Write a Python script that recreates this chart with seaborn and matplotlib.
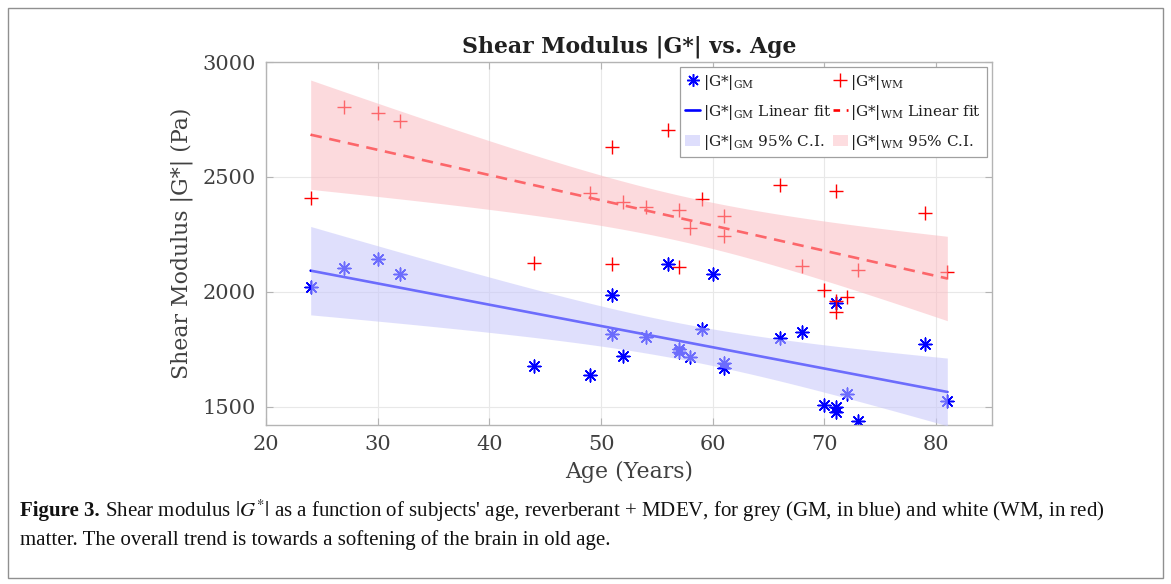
import numpy as np
import pandas as pd
import matplotlib
matplotlib.use("Agg")
import matplotlib.pyplot as plt
import seaborn as sns
from matplotlib.lines import Line2D
from matplotlib.patches import Patch, Rectangle

# ---------------- data ----------------
gm_age = [24, 27, 30, 32, 44, 49, 51, 51, 52, 54, 56, 57, 57, 58, 59, 60, 61, 61,
          66, 68, 70, 71, 71, 71, 72, 73, 79, 81]
gm_val = [2022, 2104, 2141, 2076, 1677, 1638, 1986, 1816, 1720, 1804, 2120, 1750, 1738,
          1717, 1836, 2076, 1691, 1670, 1800, 1823, 1507, 1950, 1500, 1478, 1555, 1438,
          1771, 1525]
wm_age = [24, 27, 30, 32, 44, 49, 51, 51, 52, 54, 56, 57, 57, 58, 59, 61, 61,
          66, 68, 70, 71, 71, 71, 72, 73, 79, 81]
wm_val = [2406, 2804, 2776, 2742, 2126, 2428, 2630, 2120, 2391, 2370, 2706, 2355, 2109,
          2276, 2402, 2329, 2243, 2464, 2112, 2007, 2438, 1960, 1913, 1978, 2094, 2341,
          2087]
x_ticks = [20, 30, 40, 50, 60, 70, 80]
y_ticks = [1500, 2000, 2500, 3000]
title_text = "Shear Modulus |G*| vs. Age"
x_label = "Age (Years)"
y_label = "Shear Modulus |G*| (Pa)"
legend_labels = [r"|G*|$_{\mathrm{GM}}$", r"|G*|$_{\mathrm{GM}}$ Linear fit",
                 r"|G*|$_{\mathrm{GM}}$ 95% C.I.", r"|G*|$_{\mathrm{WM}}$",
                 r"|G*|$_{\mathrm{WM}}$ Linear fit", r"|G*|$_{\mathrm{WM}}$ 95% C.I."]
caption_bold = "Figure 3."
caption_rest = (r" Shear modulus $|G^{*}|$ as a function of subjects' age, reverberant + MDEV, "
                r"for grey (GM, in blue) and white (WM, in red)")
caption_line2 = "matter. The overall trend is towards a softening of the brain in old age."

# ---------------- style ----------------
sns.set_style("ticks")
plt.rcParams["font.family"] = ["DejaVu Serif"]
plt.rcParams["mathtext.fontset"] = "dejavuserif"
text_col = "#404040"
spine_col = "#b4b4b4"

fig = plt.figure(figsize=(11.71, 5.84), dpi=100)
ax = fig.add_axes([266 / 1171, 1 - 425 / 584, (992 - 266) / 1171, (425 - 62) / 584])


def fit_ci(x, y):
    """Least-squares line with a simultaneous (Scheffe) 95% confidence band."""
    x = np.asarray(x, float)
    y = np.asarray(y, float)
    n = len(x)
    d = n - 2
    b, a = np.polyfit(x, y, 1)
    grid = np.linspace(x.min(), x.max(), 200)
    yhat = a + b * grid
    s = np.sqrt(np.sum((y - (a + b * x)) ** 2) / d)
    sxx = np.sum((x - x.mean()) ** 2)
    f95 = (d / 2.0) * (0.05 ** (-2.0 / d) - 1.0)   # F(0.95; 2, d)
    k = np.sqrt(2.0 * f95)
    half = k * s * np.sqrt(1 / n + (grid - x.mean()) ** 2 / sxx)
    return grid, yhat, yhat - half, yhat + half


gm_fill = "#c6c6fb"
wm_fill = "#fbbcc2"

df_gm = pd.DataFrame({"age": gm_age, "val": gm_val})
df_wm = pd.DataFrame({"age": wm_age, "val": wm_val})

sns.scatterplot(data=df_gm, x="age", y="val", marker=(8, 2, 0), s=85, color="#0000ff",
                linewidth=1.1, ax=ax, zorder=2, legend=False)
sns.scatterplot(data=df_wm, x="age", y="val", marker="+", s=110, color="#ff0000",
                linewidth=1.0, ax=ax, zorder=2, legend=False)

g_x, g_y, g_lo, g_hi = fit_ci(gm_age, gm_val)
w_x, w_y, w_lo, w_hi = fit_ci(wm_age, wm_val)

sns.lineplot(x=g_x, y=g_y, color="#0000ff", lw=1.9, ax=ax, zorder=2.5)
ax.plot(w_x, w_y, color="#ff0000", lw=1.9, dashes=(4.3, 2.9), zorder=2.5)
ax.fill_between(g_x, g_lo, g_hi, color=gm_fill, alpha=0.55, lw=0, zorder=3)
ax.fill_between(w_x, w_lo, w_hi, color=wm_fill, alpha=0.55, lw=0, zorder=3)

ax.set_xlim(20, 85)
ax.set_ylim(1420, 3000)
ax.set_xticks(x_ticks)
ax.set_yticks(y_ticks)
ax.grid(True, color="#e8e8e8", lw=0.8, zorder=0)
ax.set_axisbelow(True)
for sp in ax.spines.values():
    sp.set_visible(True)
    sp.set_color(spine_col)
    sp.set_linewidth(1.0)
ax.tick_params(direction="in", top=True, right=True, length=5, width=0.8,
               color=spine_col, labelcolor=text_col, labelsize=15, pad=7)
ax.set_xlabel(x_label, fontsize=15.8, color=text_col, labelpad=5)
ax.set_ylabel(y_label, fontsize=15.8, color=text_col, labelpad=7)
ax.set_title(title_text, fontsize=15.8, fontweight="bold", color="#202020", pad=7)

handles = [
    Line2D([], [], marker=(8, 2, 0), color="#0000ff", ls="none", ms=9, mew=1.1),
    Line2D([], [], color="#0000ff", lw=1.9),
    Patch(facecolor="#dedefc", edgecolor="none"),
    Line2D([], [], marker="+", color="#ff0000", ls="none", ms=10, mew=1.0),
    Line2D([], [], color="#ff0000", lw=1.9, dashes=(2.5, 2.5)),
    Patch(facecolor="#fddde0", edgecolor="none"),
]
leg = ax.legend(handles, legend_labels, ncol=2, loc="upper right", fontsize=11,
                frameon=True, fancybox=False, framealpha=1, edgecolor="#a0a0a0",
                handlelength=1.0, handletextpad=0.15, columnspacing=0.1,
                labelspacing=0.72, borderpad=0.35, borderaxespad=0.35)
leg.get_frame().set_linewidth(0.9)
leg.set_zorder(5)
for t in leg.get_texts():
    t.set_color("#202020")

# ---------------- caption and frame ----------------
fig.add_artist(Rectangle((8 / 1171, 1 - 578 / 584), (1163 - 8) / 1171, (578 - 8) / 584,
                         transform=fig.transFigure, fill=False, edgecolor="#909090", lw=1.0))
cap_font = ["Liberation Serif"]
t1 = fig.text(20 / 1171, 1 - 511 / 584, caption_bold, fontsize=15, fontweight="bold",
              family=cap_font, va="center", ha="left", color="#111111")
fig.canvas.draw()
r = fig.canvas.get_renderer()
bb = t1.get_window_extent(r)
fig.text(bb.x1 / fig.bbox.width, 1 - 511 / 584, caption_rest, fontsize=15, family=cap_font,
         math_fontfamily="stix", va="center", ha="left", color="#111111")
fig.text(20 / 1171, 1 - 540 / 584, caption_line2, fontsize=15, family=cap_font,
         va="center", ha="left", color="#111111")

fig.savefig("out.png", dpi=100)
